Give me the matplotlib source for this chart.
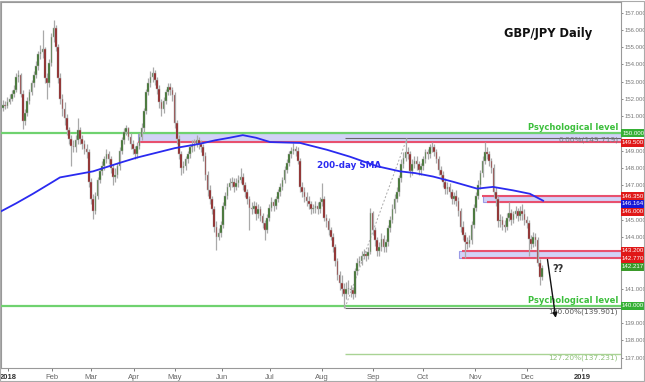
import matplotlib
matplotlib.use("Agg")
import matplotlib.pyplot as plt
from matplotlib.patches import Rectangle

# daily closes, GBP/JPY 2018
closes = [151.65, 151.6, 151.85, 152.0, 152.3, 152.5, 153.3, 153.4, 152.3, 150.7,
          151.2, 151.9, 152.4, 152.9, 153.4, 153.9, 154.6, 154.7, 154.9, 153.2,
          152.9, 154.1, 155.6, 156.1, 155.0, 153.2, 152.0, 151.4, 150.9, 150.2,
          149.7, 149.3, 149.2, 149.6, 150.2, 149.7, 149.4, 149.1, 148.9, 147.2,
          146.2, 145.5, 146.4, 147.3, 147.8, 148.1, 148.5, 148.8, 148.5, 148.0,
          147.5, 147.6, 148.1, 149.0, 149.6, 150.1, 150.3, 149.8, 149.4, 149.1,
          148.8, 149.3, 149.8, 150.3, 151.3, 152.4, 152.9, 153.3, 153.5, 153.1,
          152.6, 151.8, 151.4, 151.9, 152.4, 152.7, 152.5, 152.2, 150.6, 149.7,
          148.8, 148.0, 148.1, 148.5, 148.8, 149.2, 149.3, 149.4, 149.6, 149.4,
          149.2, 148.7, 147.6, 146.7, 146.2, 145.6, 144.6, 144.0, 144.2, 144.7,
          145.8, 146.4, 146.9, 147.1, 147.2, 146.9, 147.1, 147.3, 147.5, 147.0,
          146.6, 146.2, 145.7, 145.6, 145.8, 145.3, 145.6, 145.2, 144.8, 144.4,
          145.1, 145.7, 146.0, 145.8, 146.2, 146.6, 146.9, 147.3, 147.9, 148.3,
          148.8, 149.0, 149.1, 149.0, 148.4, 146.9, 146.6, 146.3, 146.1, 145.9,
          145.6, 145.7, 145.8, 145.6, 146.0, 146.2, 145.1, 144.9, 144.4, 144.0,
          143.4, 142.6, 141.8, 141.3, 141.0, 140.7, 141.0, 141.0, 140.9, 140.7,
          142.0, 142.5, 142.6, 142.9, 143.0, 142.9, 143.1, 145.4, 144.4, 143.8,
          143.2, 143.4, 143.9, 143.4, 143.7, 144.5, 145.0, 145.6, 146.2, 146.6,
          147.4, 148.2, 148.6, 148.9, 148.8, 147.8, 148.2, 148.4, 148.2, 147.9,
          148.1, 148.5, 148.9, 148.8, 149.2, 149.2, 148.9, 148.5, 147.9, 147.6,
          147.2, 146.8, 146.9, 146.6, 146.2, 146.4, 146.1, 145.5, 144.6, 144.1,
          143.7, 143.6, 143.8, 144.7, 145.7, 146.4, 147.0, 147.7, 148.4, 148.9,
          148.8, 148.4, 148.0, 146.6, 146.2, 144.9, 145.0, 144.7, 144.6, 145.1,
          145.4, 145.0, 145.3, 145.5, 145.2, 145.5, 145.3, 145.0, 144.8, 143.9,
          143.6, 144.0, 143.8, 142.5, 141.7, 142.2]

highs = [151.95, 151.9, 152.1, 152.3, 152.5, 152.8, 153.5, 153.65, 153.5, 152.5,
         151.4, 152.1, 152.6, 153.1, 153.6, 154.2, 154.8, 155.1, 156.0, 155.0,
         153.5, 154.3, 155.8, 156.55, 156.3, 155.2, 153.5, 152.3, 151.8, 151.1,
         150.4, 149.9, 149.6, 149.9, 150.9, 150.4, 149.9, 149.6, 149.4, 149.1,
         147.4, 146.5, 146.6, 147.5, 148.0, 148.4, 148.7, 149.1, 149.0, 148.7,
         148.2, 148.0, 148.3, 149.2, 149.8, 150.3, 150.5, 150.4, 150.0, 149.6,
         149.3, 149.5, 150.0, 150.6, 151.5, 152.6, 153.2, 153.6, 153.87, 153.7,
         153.3, 152.8, 152.0, 152.1, 152.6, 152.9, 152.9, 152.7, 152.4, 150.8,
         149.9, 149.0, 148.4, 148.7, 149.0, 149.4, 149.6, 149.7, 149.9, 149.8,
         149.6, 149.4, 148.9, 147.8, 147.0, 146.4, 145.8, 144.9, 144.5, 144.9,
         146.0, 146.6, 147.1, 147.4, 147.5, 147.4, 147.4, 147.6, 148.0, 147.7,
         147.2, 146.8, 146.4, 146.0, 146.1, 146.0, 145.9, 145.8, 145.4, 145.0,
         145.3, 145.9, 146.3, 146.2, 146.4, 146.8, 147.1, 147.5, 148.1, 148.5,
         149.0, 149.2, 149.45, 149.3, 149.2, 148.6, 147.2, 146.9, 146.6, 146.4,
         146.1, 145.9, 146.1, 146.0, 146.3, 147.1, 146.4, 145.3, 145.1, 144.6,
         144.2, 143.6, 142.8, 142.0, 141.8, 141.3, 141.4, 141.5, 141.2, 141.1,
         142.2, 142.8, 142.9, 143.2, 143.3, 143.2, 143.4, 145.7, 145.5, 144.6,
         144.0, 143.7, 144.2, 144.1, 143.9, 144.7, 145.2, 145.9, 146.5, 146.9,
         147.6, 148.5, 148.9, 149.72, 149.2, 149.0, 148.5, 148.7, 148.7, 148.4,
         148.3, 148.7, 149.1, 149.1, 149.4, 149.5, 149.4, 149.1, 148.7, 148.1,
         147.8, 147.4, 147.2, 147.1, 146.8, 146.6, 146.7, 146.3, 145.7, 144.9,
         144.3, 144.0, 144.1, 144.9, 145.9, 146.6, 147.3, 147.9, 148.7, 149.5,
         149.2, 149.0, 148.6, 148.2, 146.9, 146.4, 145.3, 145.2, 145.0, 145.4,
         146.0, 145.6, 145.5, 145.8, 145.7, 145.8, 145.9, 145.6, 145.2, 145.0,
         144.1, 144.3, 144.2, 144.0, 142.7, 142.4]

lows = [151.3, 151.4, 151.45, 151.7, 151.9, 152.1, 152.4, 153.0, 152.1, 150.25,
        150.5, 151.0, 151.7, 152.2, 152.7, 153.2, 153.7, 154.3, 154.4, 152.9,
        152.0, 152.7, 153.9, 155.3, 154.8, 152.9, 151.7, 151.0, 150.5, 149.9,
        149.4, 148.1, 148.9, 148.9, 149.4, 149.4, 149.1, 148.8, 148.6, 146.9,
        145.9, 145.03, 145.3, 146.2, 147.1, 147.6, 147.9, 148.3, 148.2, 147.7,
        147.0, 147.2, 147.4, 147.9, 148.8, 149.4, 149.9, 149.6, 149.1, 148.8,
        148.5, 148.6, 149.1, 149.6, 150.1, 151.1, 152.2, 152.7, 153.0, 152.8,
        152.3, 151.5, 151.0, 151.2, 151.7, 152.2, 152.2, 151.9, 150.3, 149.4,
        148.5, 147.6, 147.7, 147.9, 148.3, 148.6, 148.9, 149.0, 149.2, 149.1,
        148.9, 148.4, 147.3, 146.4, 145.9, 145.3, 144.3, 143.24, 143.8, 144.0,
        144.5, 145.6, 146.2, 146.7, 146.9, 146.6, 146.7, 146.9, 147.1, 146.7,
        146.3, 145.9, 144.4, 145.3, 145.4, 145.0, 145.1, 144.9, 144.5, 143.8,
        144.2, 144.9, 145.5, 145.5, 145.6, 146.0, 146.4, 146.7, 147.1, 147.7,
        148.1, 148.6, 148.8, 148.7, 148.2, 146.6, 146.3, 146.0, 145.8, 145.6,
        145.3, 145.4, 145.4, 145.3, 145.4, 145.8, 144.9, 144.6, 144.1, 143.8,
        143.1, 142.3, 141.5, 140.9, 140.6, 139.9, 140.4, 140.7, 140.5, 140.4,
        140.5, 141.8, 142.3, 142.4, 142.7, 142.6, 142.7, 143.0, 144.1, 143.5,
        142.9, 142.9, 143.2, 143.1, 143.1, 143.5, 144.3, 144.8, 145.4, 146.0,
        146.4, 147.2, 148.0, 148.4, 148.5, 147.5, 147.6, 148.0, 147.9, 147.6,
        147.6, 147.9, 148.3, 148.5, 148.6, 148.9, 148.7, 148.3, 147.6, 147.3,
        146.9, 146.5, 146.5, 146.3, 145.9, 145.9, 145.8, 145.2, 144.3, 143.8,
        142.77, 143.3, 143.4, 143.6, 144.5, 145.5, 146.2, 146.8, 147.5, 148.2,
        148.5, 148.1, 147.7, 146.3, 145.8, 144.6, 144.6, 144.4, 144.3, 144.4,
        144.9, 144.7, 144.8, 145.1, 144.9, 145.0, 145.0, 144.7, 144.5, 142.9,
        143.3, 143.4, 143.5, 142.3, 141.2, 141.5]

first_open = 151.5
opens = [first_open] + closes[:-1]

# 200-day SMA (bar index, value)
sma_idx = [-1.4, 6, 13.6, 22.7, 25.9, 40.9, 53.2, 60.9, 78.2, 89.5, 96.4, 103,
           109, 115, 121.4, 135, 147.3, 157.7, 170, 180.5, 187.3, 195.5, 204.5,
           215.5, 222.7, 231.8, 239.5, 245.5]
sma_val = [145.45, 145.95, 146.5, 147.2, 147.45, 147.8, 148.3, 148.6, 149.15,
           149.4, 149.6, 149.75, 149.9, 149.75, 149.5, 149.45, 149.05, 148.65,
           148.1, 147.8, 147.7, 147.5, 147.2, 146.8, 146.9, 146.7, 146.5, 146.1]

month_labels = ["2018", "Feb", "Mar", "Apr", "May", "Jun", "Jul", "Aug",
                "Sep", "Oct", "Nov", "Dec", "2019"]
month_pos = [2.3, 22.3, 40, 59.5, 78.2, 99.5, 121.4, 145, 168.2, 190.9,
             214.5, 238.2, 263.2]

price_ticks = [157, 156, 155, 154, 153, 152, 151, 149, 148, 147, 145, 144,
               141, 139, 138, 137]

fig = plt.figure(figsize=(6.45, 3.82), dpi=100)
ax = fig.add_axes([1 / 645, 1 - 368 / 382, 620 / 645, 366 / 382])
XMAX = 280.9
ax.set_xlim(-0.91, XMAX)
ax.set_ylim(136.40, 157.62)

up_col = "#2f6a1e"
dn_col = "#8a1414"
wick_col = "#a9a9a9"
idx = list(range(len(closes)))

ax.vlines(idx, lows, highs, color=wick_col, lw=0.9, zorder=3)
bottoms = [min(o, c) for o, c in zip(opens, closes)]
heights = [max(abs(c - o), 0.04) for o, c in zip(opens, closes)]
colors = [up_col if c >= o else dn_col for o, c in zip(opens, closes)]
ax.bar(idx, heights, bottom=bottoms, width=0.78, color=colors,
       edgecolor="#b0b0b0", linewidth=0.35, zorder=4)

ax.plot(sma_idx, sma_val, color="#2a2af0", lw=1.3, zorder=5)

# zones
def zone(x0, lo, hi):
    ax.add_patch(Rectangle((x0, lo), XMAX - x0, hi - lo, facecolor="#d2d2f6",
                           edgecolor="#9a9ae6", lw=0.8, zorder=2))

zone(61.4, 149.5, 150.0)
zone(218.2, 146.0, 146.35)
zone(207.3, 142.77, 143.2)

red = "#e8506e"
ax.hlines(149.5, 61.4, XMAX, color=red, lw=1.5, zorder=2.5)
ax.hlines(146.35, 217.8, XMAX, color=red, lw=1.5, zorder=2.5)
ax.hlines(146.0, 220.0, XMAX, color=red, lw=1.5, zorder=2.5)
ax.hlines(143.2, 208.6, XMAX, color=red, lw=1.5, zorder=2.5)
ax.hlines(142.77, 208.6, XMAX, color=red, lw=1.5, zorder=2.5)

green = "#6fd26f"
ax.axhline(150.0, color=green, lw=1.6, zorder=2.6)
ax.axhline(140.0, color=green, lw=1.6, zorder=2.6)

# fibonacci levels
ax.hlines(149.719, 155.5, XMAX, color="#666666", lw=0.8, zorder=2.7)
ax.hlines(139.901, 155.5, XMAX, color="#666666", lw=0.8, zorder=2.7)
ax.hlines(137.231, 155.5, XMAX, color="#a9d394", lw=1.0, zorder=2.7)
ax.plot([155.5, 183.6], [139.9, 149.719], color="#aaaaaa", lw=0.7,
        ls=(0, (2, 2)), zorder=2.7)

tx = 279.6
ax.text(tx, 150.08, "Psychological level", color="#3cbf3c", fontsize=6,
        fontweight="bold", ha="right", va="bottom", zorder=6)
ax.text(tx, 140.08, "Psychological level", color="#3cbf3c", fontsize=6,
        fontweight="bold", ha="right", va="bottom", zorder=6)
ax.text(tx, 149.45, "0.00%(149.719)", color="#777777", fontsize=5.3,
        ha="right", va="bottom", zorder=6)
ax.text(tx, 139.83, "100.00%(139.901)", color="#555555", fontsize=5.3,
        ha="right", va="top", zorder=6)
ax.text(tx, 137.16, "127.20%(137.231)", color="#8fc07a", fontsize=5.3,
        ha="right", va="top", zorder=6)

ax.text(247.7, 155.82, "GBP/JPY Daily", fontsize=8.3, fontweight="bold",
        ha="center", va="center", color="#111111")
ax.text(157.5, 148.16, "200-day SMA", fontsize=6.3, fontweight="bold",
        ha="center", va="center", color="#2a2af0")
ax.text(252.3, 142.12, "??", fontsize=7, fontweight="bold", ha="center",
        va="center", color="#333333")
ax.annotate("", xy=(251.4, 139.15), xytext=(247.3, 142.85),
            arrowprops=dict(arrowstyle="-|>", color="#111111", lw=1.0,
                            mutation_scale=7), zorder=7)

# right-hand price boxes
box_x = XMAX + 0.15
box_w = 23.5 / 2.2
box_h = 0.46
price_boxes = [
    (150.0, "150.000", "#35b035"),
    (149.47, "149.500", "#e01818"),
    (146.37, "146.350", "#e01818"),
    (145.91, "146.164", "#1818d8"),
    (145.45, "146.000", "#e01818"),
    (143.19, "143.200", "#e01818"),
    (142.72, "142.770", "#e01818"),
    (142.26, "142.217", "#3a9a2a"),
    (140.0, "140.000", "#35b035"),
]
for yb, lab, col in price_boxes:
    ax.add_patch(Rectangle((box_x, yb - box_h / 2), box_w, box_h,
                           facecolor=col, edgecolor="none", clip_on=False,
                           zorder=8))
    ax.text(box_x + box_w / 2, yb, lab, color="white", fontsize=4.4,
            family="Liberation Sans", ha="center", va="center",
            clip_on=False, zorder=9)

# axes styling
ax.yaxis.tick_right()
ax.set_yticks(price_ticks)
ax.set_yticklabels([f"{p:.3f}" for p in price_ticks], family="Liberation Sans")
ax.tick_params(axis="y", labelsize=4.3, colors="#777777", length=1.5, pad=1,
               width=0.6)
ax.set_xticks(month_pos)
ax.set_xticklabels(month_labels, family="Liberation Sans")
ax.tick_params(axis="x", labelsize=5.5, colors="#666666", length=2, pad=2,
               width=0.6)
for lbl in ax.get_xticklabels():
    if lbl.get_text() in ("2018", "2019"):
        lbl.set_fontweight("bold")
        lbl.set_color("#333333")
for sp in ax.spines.values():
    sp.set_color("#999999")
    sp.set_linewidth(0.8)

fig.patches.append(Rectangle((0, 0.003), 0.998, 0.994, transform=fig.transFigure,
                             fill=False, edgecolor="#aaaaaa", lw=0.8))

fig.savefig("out.png", dpi=100)
